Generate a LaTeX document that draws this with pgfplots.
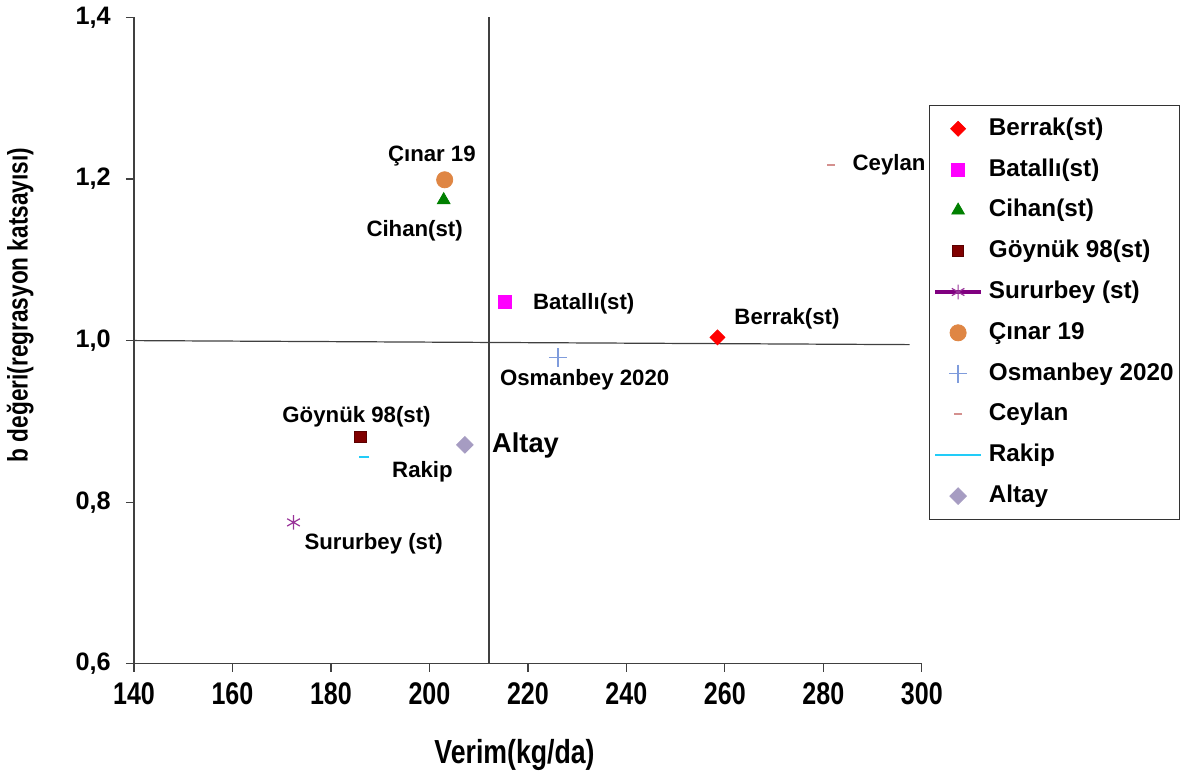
\documentclass[border=0pt]{standalone}
\usepackage{fontspec}
\setmainfont{Liberation Sans}
\newfontfamily\narrowfont[FakeStretch=0.8]{Liberation Sans}
\usepackage{pgfplots}
\pgfplotsset{compat=1.18}

\definecolor{cBerrak}{HTML}{FF0000}
\definecolor{cBatalli}{HTML}{FF00FF}
\definecolor{cCihan}{HTML}{008000}
\definecolor{cGoynuk}{HTML}{800000}
\definecolor{cSur}{HTML}{993399}
\definecolor{cSurLine}{HTML}{800080}
\definecolor{cCinar}{HTML}{DF8644}
\definecolor{cOsman}{HTML}{7F9CDC}
\definecolor{cCeylan}{HTML}{D4908E}
\definecolor{cRakip}{HTML}{22CCF8}
\definecolor{cAltay}{HTML}{A69CC2}

% legend pictures: mark only, or line + mark
\pgfplotsset{
  mleg/.style={legend image code/.code={%
    \path[draw=none, fill=none] (0pt,-4pt) rectangle (22.5pt,4pt);
    \draw[##1] plot[only marks] coordinates {(11.25pt,0pt)};}},
  lleg/.style={legend image code/.code={%
    \path[draw=none, fill=none] (0pt,-4pt) rectangle (22.5pt,4pt);
    \draw[#1] (0pt,0pt) -- (22.5pt,0pt);
    \draw[##1] plot[only marks] coordinates {(11.25pt,0pt)};}},
}

\newcommand{\lbl}{\fontsize{11}{13}\selectfont\bfseries}

\begin{document}
\begin{tikzpicture}
\begin{axis}[
  scale only axis, width=390pt, height=320pt,
  xmin=140, xmax=300, ymin=0.6, ymax=1.4,
  axis lines*=left,
  axis line style={draw=black!75, line width=0.6pt},
  xtick={140,160,...,300}, ytick={0.6,0.8,1.0,1.2,1.4},
  tick align=outside, major tick length=4pt,
  tick style={black!75, line width=0.6pt},
  /pgf/number format/assume math mode=true,
  yticklabel style={font=\fontsize{12.5}{14}\selectfont\bfseries, xshift=-4pt,
    /pgf/number format/.cd, fixed, fixed zerofill, precision=1, use comma},
  xticklabel style={font=\narrowfont\fontsize{15.5}{17}\selectfont\bfseries, yshift=-2pt},
  xlabel={Verim(kg/da)},
  ylabel={b değeri(regrasyon katsayısı)},
  xlabel style={font=\narrowfont\fontsize{16.5}{18}\selectfont\bfseries,
    at={(axis description cs:0.483,-0.1406)}, anchor=center},
  ylabel style={font=\narrowfont\fontsize{14}{16}\selectfont\bfseries,
    at={(axis description cs:-0.1445,0.555)}, anchor=center},
  legend cell align=left,
  legend style={at={(1.009,0.865)}, anchor=north west, draw=black!80,
    font=\fontsize{12}{14}\selectfont\bfseries,
    inner xsep=2pt, inner ysep=5pt, column sep=2pt, row sep=6.7pt,
    nodes={inner sep=1pt, text height=9pt, text depth=2.5pt}},
  clip=false,
]
% reference lines (mean yield, b = 1)
\addplot[forget plot, color=black!75, line width=0.7pt] coordinates {(212.1,0.6) (212.1,1.4)};
\addplot[forget plot, color=black!75, line width=0.6pt] coordinates {(140,1.0) (297.5,0.995)};

\addplot[only marks, color=cBerrak, mark=square*, mark size=2.6pt,
  mark options={rotate=45}, mleg] coordinates {(258.5,1.004)};
\addlegendentry{Berrak(st)}
\addplot[only marks, color=cBatalli, mark=square*, mark size=3.2pt, mleg]
  coordinates {(215.3,1.0475)};
\addlegendentry{Batallı(st)}
\addplot[only marks, color=cCihan, mark=triangle*, mark size=3.6pt, mleg]
  coordinates {(202.9,1.174)};
\addlegendentry{Cihan(st)}
\addplot[only marks, color=cGoynuk, mark=square*, mark size=2.8pt,
  mark options={draw=cGoynuk!70!black}, mleg] coordinates {(186.0,0.881)};
\addlegendentry{Göynük 98(st)}
\addplot[only marks, color=cSur, mark=asterisk, mark size=3.6pt,
  mark options={line width=0.6pt}, lleg={cSurLine, line width=2pt}]
  coordinates {(172.4,0.775)};
\addlegendentry{Sururbey (st)}
\addplot[only marks, color=cCinar, mark=*, mark size=4pt, mleg]
  coordinates {(203.1,1.199)};
\addlegendentry{Çınar 19}
\addplot[only marks, color=cOsman, mark=+, mark size=4.5pt,
  mark options={line width=0.7pt}, mleg] coordinates {(226.1,0.979)};
\addlegendentry{Osmanbey 2020}
\addplot[only marks, color=cCeylan, mark=-, mark size=2pt,
  mark options={line width=1pt}, mleg] coordinates {(281.5,1.2175)};
\addlegendentry{Ceylan}
\addplot[only marks, color=cRakip, mark=-, mark size=2.5pt,
  mark options={line width=1.2pt}, lleg={cRakip, line width=1pt}]
  coordinates {(186.8,0.856)};
\addlegendentry{Rakip}
\addplot[only marks, color=cAltay, mark=square*, mark size=2.9pt,
  mark options={rotate=45}, mleg] coordinates {(207.2,0.871)};
\addlegendentry{Altay}

% point labels
\node[font=\lbl, anchor=center] at (axis cs:200.5,1.229) {Çınar 19};
\node[font=\lbl, anchor=center] at (axis cs:197.0,1.136) {Cihan(st)};
\node[font=\lbl, anchor=west] at (axis cs:219.6,1.045) {Batallı(st)};
\node[font=\lbl, anchor=west] at (axis cs:260.5,1.0275) {Berrak(st)};
\node[font=\lbl, anchor=west] at (axis cs:212.9,0.951) {Osmanbey 2020};
\node[font=\lbl, anchor=west] at (axis cs:284.5,1.2175) {Ceylan};
\node[font=\lbl, anchor=center] at (axis cs:185.2,0.906) {Göynük 98(st)};
\node[font=\lbl, anchor=west] at (axis cs:191.0,0.8375) {Rakip};
\node[font=\fontsize{13.5}{15}\selectfont\bfseries, anchor=west] at (axis cs:211.3,0.870) {Altay};
\node[font=\lbl, anchor=west] at (axis cs:173.2,0.749) {Sururbey (st)};
\end{axis}
\end{tikzpicture}
\end{document}
